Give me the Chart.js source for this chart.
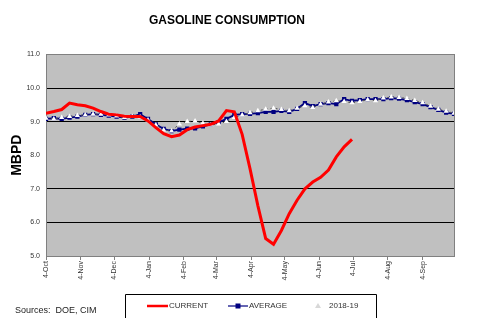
<!DOCTYPE html>
<html>
<head>
<meta charset="utf-8">
<script src="https://cdn.jsdelivr.net/npm/chart.js@4"></script>
<style>
  html, body { margin: 0; padding: 0; background: #fff; }
  #wrap { width: 481px; height: 328px; position: relative; }
</style>
</head>
<body>
<div id="wrap"><canvas id="gasChart"></canvas></div>
<script>
// week number counted from 4-Oct
const weekNo = Array.from({ length: 53 }, (_, i) => i);

// month marks on the x axis, in weeks from 4-Oct
const monthTicks = [0, 4.43, 8.71, 13.14, 17.57, 21.71, 26.14, 30.43, 34.86, 39.14, 43.57, 48];
const monthLabels = ['4-Oct', '4-Nov', '4-Dec', '4-Jan', '4-Feb', '4-Mar', '4-Apr', '4-May', '4-Jun', '4-Jul', '4-Aug', '4-Sep'];

const current = [9.25, 9.3, 9.36, 9.55, 9.5, 9.47, 9.4, 9.3, 9.22, 9.2, 9.16, 9.15, 9.15,
    9.02, 8.82, 8.64, 8.55, 8.6, 8.76, 8.84, 8.88, 8.92, 9.02, 9.33, 9.29,
    8.62, 7.6, 6.5, 5.52, 5.35, 5.76, 6.26, 6.66, 7.0, 7.2, 7.34, 7.56, 7.95, 8.25, 8.47];

const average = [9.08, 9.1, 9.08, 9.12, 9.15, 9.2, 9.22, 9.2, 9.18, 9.15, 9.12, 9.15, 9.22,
    9.08, 8.92, 8.78, 8.72, 8.76, 8.79, 8.8, 8.86, 8.92, 8.98, 9.08, 9.2,
    9.22, 9.23, 9.25, 9.29, 9.29, 9.32, 9.29, 9.38, 9.55, 9.46, 9.52, 9.55, 9.52, 9.67,
    9.62, 9.64, 9.67, 9.67, 9.67, 9.7, 9.68, 9.64, 9.58, 9.52, 9.43, 9.35, 9.27, 9.23];

const season1819 = [9.1, 9.08, 9.12, 9.15, 9.18, 9.2, 9.22, 9.22, 9.2, 9.17, 9.12, 9.15, 9.14,
    9.05, 8.9, 8.75, 8.72, 8.93, 9.0, 9.02, 8.95, 8.9, 8.93, 9.0, 9.12,
    9.2, 9.26, 9.32, 9.37, 9.4, 9.36, 9.32, 9.4, 9.47, 9.42, 9.52, 9.58, 9.62, 9.6,
    9.56, 9.6, 9.65, 9.62, 9.7, 9.73, 9.72, 9.69, 9.63, 9.56, 9.46, 9.37, 9.31, 9.25];

const seriesNames = ['CURRENT', 'AVERAGE', '2018-19'];

const plotBackground = {
    id: 'plotBackground',
    beforeDraw(chart) {
        const { ctx, chartArea: a } = chart;
        ctx.save();
        ctx.fillStyle = '#c0c0c0';
        ctx.fillRect(a.left, a.top, a.right - a.left, a.bottom - a.top);
        ctx.restore();
    },
    beforeDatasetsDraw(chart) {
        const { ctx, chartArea: a } = chart;
        ctx.save();
        ctx.strokeStyle = '#808080';
        ctx.lineWidth = 1;
        ctx.strokeRect(Math.round(a.left) + 0.5, Math.round(a.top) + 0.5,
            Math.round(a.right - a.left), Math.round(a.bottom - a.top));
        ctx.restore();
    }
};

// boxed legend under the axis labels, and the sources note
const boxLegend = {
    id: 'boxLegend',
    afterDraw(chart) {
        const ctx = chart.ctx;
        const ds = chart.data.datasets;
        const y = 306;
        ctx.save();
        ctx.strokeStyle = '#000';
        ctx.lineWidth = 1;
        ctx.beginPath();
        ctx.moveTo(125.5, 318);
        ctx.lineTo(125.5, 294.5);
        ctx.lineTo(376.5, 294.5);
        ctx.lineTo(376.5, 318);
        ctx.stroke();

        ctx.font = '8px "Liberation Sans", Arial, sans-serif';
        ctx.textBaseline = 'middle';
        ctx.fillStyle = '#333';

        // CURRENT
        ctx.strokeStyle = ds[0].borderColor;
        ctx.lineWidth = 2.5;
        ctx.beginPath(); ctx.moveTo(147, y); ctx.lineTo(168, y); ctx.stroke();
        ctx.fillText(ds[0].label, 169, y);

        // AVERAGE
        ctx.strokeStyle = ds[1].borderColor;
        ctx.lineWidth = 1.2;
        ctx.beginPath(); ctx.moveTo(228, y); ctx.lineTo(248, y); ctx.stroke();
        ctx.fillStyle = ds[1].pointBackgroundColor;
        ctx.fillRect(235.5, y - 2.5, 5, 5);
        ctx.fillStyle = '#333';
        ctx.fillText(ds[1].label, 249, y);

        // 2018-19
        ctx.fillStyle = '#d8d8d8';
        ctx.beginPath();
        ctx.moveTo(318, y - 3); ctx.lineTo(321, y + 2); ctx.lineTo(315, y + 2);
        ctx.closePath(); ctx.fill();
        ctx.fillStyle = '#333';
        ctx.fillText(ds[2].label, 329, y);

        ctx.font = '9px "Liberation Sans", Arial, sans-serif';
        ctx.fillStyle = '#222';
        ctx.fillText('Sources:  DOE, CIM', 15, 311);
        ctx.restore();
    }
};

const ctx = document.getElementById('gasChart').getContext('2d');

const gasChart = new Chart(ctx, {
    type: 'line',
    data: {
        labels: weekNo,
        datasets: [{
            label: seriesNames[0],
            data: current,
            borderColor: '#ff0000',
            borderWidth: 3,
            pointRadius: 0,
            tension: 0,
            order: 1
        }, {
            label: seriesNames[1],
            data: average,
            borderColor: '#000080',
            borderWidth: 1.8,
            pointStyle: 'rect',
            pointRadius: 3,
            pointBackgroundColor: '#000080',
            pointBorderColor: '#000080',
            pointBorderWidth: 0,
            tension: 0,
            order: 3
        }, {
            label: seriesNames[2],
            data: season1819,
            borderColor: '#505050',
            borderWidth: 1,
            borderDash: [2, 3],
            pointStyle: 'triangle',
            pointRadius: 3,
            pointBackgroundColor: '#ffffff',
            pointBorderColor: '#ffffff',
            pointBorderWidth: 0,
            tension: 0,
            order: 2
        }]
    },
    options: {
        responsive: true,
        maintainAspectRatio: false,
        animation: false,
        layout: { padding: { left: 0, right: 27, top: 0, bottom: 0 } },
        scales: {
            x: {
                type: 'linear',
                min: 0,
                max: 52,
                afterBuildTicks: (scale) => {
                    scale.ticks = monthTicks.map(v => ({ value: v }));
                },
                afterFit: (scale) => { scale.height = 72; },
                ticks: {
                    autoSkip: false,
                    minRotation: 90,
                    maxRotation: 90,
                    padding: 1,
                    color: '#333',
                    font: { size: 7, family: '"Liberation Sans", Arial, sans-serif' },
                    callback: (value, index) => monthLabels[index]
                },
                grid: {
                    drawOnChartArea: false,
                    drawTicks: true,
                    tickLength: 4,
                    color: '#808080'
                },
                border: { color: '#808080' }
            },
            y: {
                min: 5,
                max: 11,
                afterFit: (scale) => { scale.width = 46; },
                ticks: {
                    stepSize: 1,
                    padding: 6,
                    color: '#333',
                    font: { size: 7, family: '"Liberation Sans", Arial, sans-serif' },
                    callback: (value) => value.toFixed(1)
                },
                grid: {
                    drawTicks: false,
                    color: (c) => [6, 7, 9, 10].includes(c.tick.value) ? '#000000' : 'rgba(0,0,0,0)'
                },
                border: { color: '#808080' },
                title: {
                    display: true,
                    text: 'MBPD',
                    color: '#000',
                    padding: { top: 9, bottom: 0 },
                    font: { size: 14, weight: 'bold', family: '"Liberation Sans", Arial, sans-serif' }
                }
            }
        },
        plugins: {
            legend: { display: false },
            tooltip: { enabled: false },
            title: {
                display: true,
                text: 'GASOLINE CONSUMPTION',
                color: '#000',
                padding: { top: 13, bottom: 27 },
                font: { size: 12, weight: 'bold', family: '"Liberation Sans", Arial, sans-serif' }
            }
        }
    },
    plugins: [plotBackground, boxLegend]
});
</script>
</body>
</html>
